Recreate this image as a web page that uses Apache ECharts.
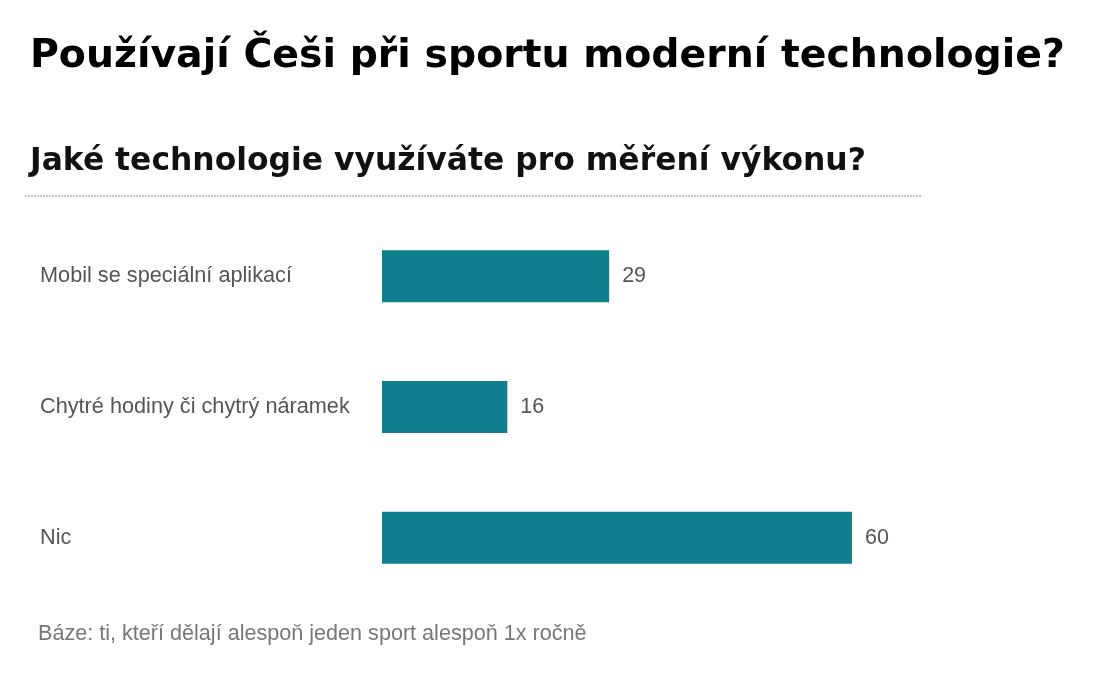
<!DOCTYPE html>
<html>
<head>
<meta charset="utf-8">
<script src="https://cdn.jsdelivr.net/npm/echarts@6/dist/echarts.min.js"></script>
<style>
  html, body { margin: 0; padding: 0; background: #fff; }
  #chart { width: 1100px; height: 683px; }
</style>
</head>
<body>
<div id="chart"></div>
<script>
const categories = ['Mobil se speciální aplikací', 'Chytré hodiny či chytrý náramek', 'Nic'];
const values = [29, 16, 60];

const chart = echarts.init(document.getElementById('chart'), null, { renderer: 'canvas' });

const option = {
  backgroundColor: '#fff',
  animation: false,
  title: [
    {
      text: 'Používají Češi při sportu moderní technologie?',
      left: 30,
      top: 37,
      padding: 0,
      textStyle: { fontFamily: 'DejaVu Sans', fontSize: 39.4, fontWeight: 'bold', color: '#000' }
    },
    {
      text: 'Jaké technologie využíváte pro měření výkonu?',
      left: 30,
      top: 146,
      padding: 0,
      textStyle: { fontFamily: 'DejaVu Sans', fontSize: 31.4, fontWeight: 'bold', color: '#111' }
    },
    {
      text: 'Báze: ti, kteří dělají alespoň jeden sport alespoň 1x ročně',
      left: 38,
      top: 623,
      padding: 0,
      textStyle: { fontFamily: 'Liberation Sans', fontSize: 21.6, fontWeight: 'normal', color: '#777' }
    }
  ],
  graphic: [
    {
      type: 'line',
      shape: { x1: 25, y1: 196, x2: 922, y2: 196 },
      style: { stroke: '#c8c8c8', lineWidth: 2, lineDash: [2, 1] }
    }
  ],
  grid: {
    left: 382,
    right: 248,
    top: 211,
    bottom: 80
  },
  xAxis: {
    type: 'value',
    min: 0,
    max: 60,
    show: false
  },
  yAxis: {
    type: 'category',
    data: categories,
    inverse: true,
    axisLine: { show: false },
    axisTick: { show: false },
    axisLabel: {
      align: 'left',
      margin: 342,
      fontFamily: 'Liberation Sans',
      fontSize: 21.7,
      color: '#555'
    }
  },
  series: [
    {
      type: 'bar',
      data: values,
      barWidth: 52,
      itemStyle: { color: '#0f7f8d' },
      label: {
        show: true,
        position: 'right',
        distance: 13,
        fontFamily: 'Liberation Sans',
        fontSize: 21.5,
        color: '#555'
      }
    }
  ]
};

chart.setOption(option);
</script>
</body>
</html>
